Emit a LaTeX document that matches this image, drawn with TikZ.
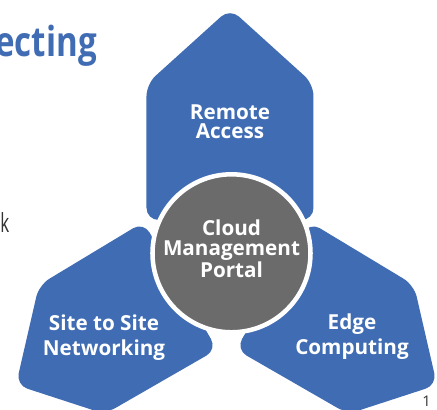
\documentclass[tikz,border=0pt]{standalone}
\usepackage{fontspec}
\setmainfont{Open Sans}
\usepackage{graphicx}
\definecolor{shapeblue}{RGB}{64,108,180}
\definecolor{portalgray}{RGB}{107,107,107}
\definecolor{bodygray}{RGB}{50,50,50}
\begin{document}
\begin{tikzpicture}[x=0.75pt,y=-0.75pt,
  petal/.style={fill=shapeblue, rounded corners=9pt},
  petaltext/.style={text=white, align=center, inner sep=0pt},
  hub/.style={circle, fill=portalgray, draw=white, line width=3.4pt, minimum size=118.5pt, inner sep=0pt}]
\clip (0,0) rectangle (437,410);
% petals
\fill[petal] (146.5,220) -- (146.5,84) -- (230,8.5) -- (313.5,84) -- (313.5,220) -- cycle;
\fill[petal] (309.5,222) -- (414,285) -- (437,385) -- (348,414) -- (236,349.5) -- cycle;
\fill[petal] (143.5,222) -- (217,349.5) -- (105,414) -- (16,385) -- (39,285) -- cycle;
% hub
\node[hub] (portal) at (231.5,253.3) {};
% texts
\node[petaltext, font=\bfseries\fontsize{15.5}{14.2}\selectfont] (remote) at (230,122) {Remote\\Access};
\node[petaltext, font=\bfseries\fontsize{15.5}{14.8}\selectfont] (portaltext) at (231.5,248.5) {Cloud\\Management\\Portal};
\node[petaltext, font=\bfseries\fontsize{15.5}{18.75}\selectfont] (site) at (104,337.5) {Site to Site\\Networking};
\node[petaltext, font=\bfseries\fontsize{15.5}{18.75}\selectfont] (edge) at (352,337) {Edge\\Computing};
% slide fragments
\node[anchor=base east, inner sep=0pt, text=shapeblue, font=\bfseries\fontsize{31}{31}\selectfont] (title) at (97,57) {\scalebox{0.8}[1]{ecting}};
\node[anchor=base west, inner sep=0pt, text=bodygray, font=\fontsize{19.7}{20}\selectfont] (bodyk) at (0,233) {\scalebox{0.65}[1]{k}};
\node[anchor=base, inner sep=0pt, text=bodygray, font=\fontsize{11}{11}\selectfont] (pagenum) at (426.5,407) {1};
\end{tikzpicture}
\end{document}
